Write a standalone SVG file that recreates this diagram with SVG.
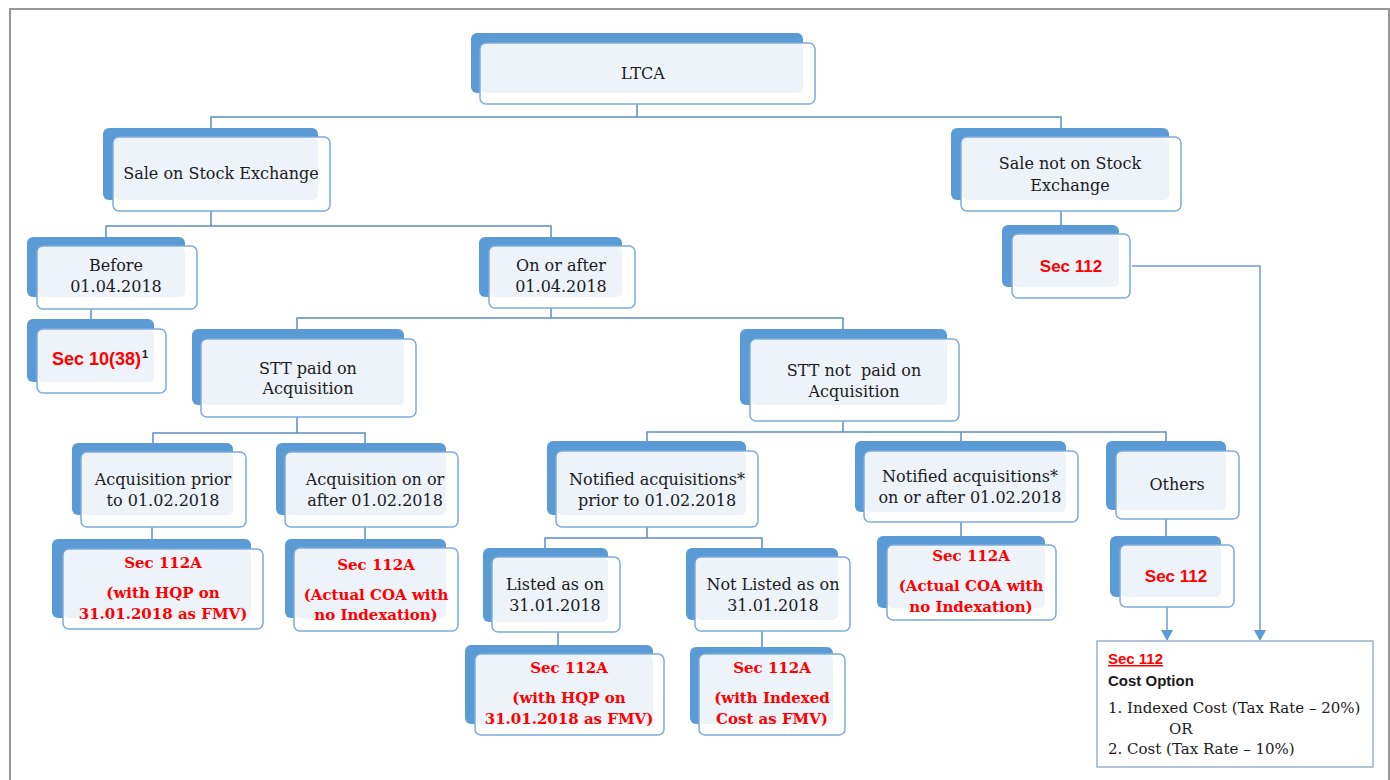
<svg xmlns="http://www.w3.org/2000/svg" width="1390" height="780" viewBox="0 0 1390 780">
<style>
.bk{fill:#5B9BD5}
.fr{fill:#ffffff;stroke:#7FAADB;stroke-width:1.5}
.lt{fill:#EEF3FA}
.t{font-family:"DejaVu Serif",serif;font-size:16px;fill:#1a1a1a;text-anchor:middle}
.r{font-family:"DejaVu Serif",serif;font-weight:bold;font-size:15px;fill:#FF0000;text-anchor:middle}
.rs{font-family:"Liberation Sans",Arial,sans-serif;font-weight:bold;font-size:17px;fill:#FF0000}
.cn{fill:none;stroke:#5A8DC8;stroke-width:1.5}
.ar{fill:none;stroke:#6A9FD6;stroke-width:1.5}
</style>
<rect x="0" y="0" width="1390" height="780" fill="#ffffff"/>
<rect x="10" y="9" width="1379" height="800" fill="none" stroke="#999" stroke-width="2"/>

<g id="connectors">
<polyline class="cn" points="637,104 637,117"/>
<polyline class="cn" points="211,128 211,117 1061,117 1061,128"/>
<polyline class="cn" points="211,211 211,226"/>
<polyline class="cn" points="106,237 106,226 551,226 551,237"/>
<polyline class="cn" points="1061,211 1061,225"/>
<polyline class="cn" points="91,309 91,319"/>
<polyline class="cn" points="551,308 551,318"/>
<polyline class="cn" points="297,329 297,318 843,318 843,329"/>
<polyline class="cn" points="297,417 297,433"/>
<polyline class="cn" points="153,443 153,433 365,433 365,443"/>
<polyline class="cn" points="843,421 843,432"/>
<polyline class="cn" points="647,441 647,432 1166,432 1166,441"/>
<polyline class="cn" points="961,432 961,441"/>
<polyline class="cn" points="152,527 152,539"/>
<polyline class="cn" points="365,527 365,539"/>
<polyline class="cn" points="647,527 647,538"/>
<polyline class="cn" points="545,548 545,538 762,538 762,548"/>
<polyline class="cn" points="961,522 961,536"/>
<polyline class="cn" points="1166,519 1166,536"/>
<polyline class="cn" points="558,632 558,645"/>
<polyline class="cn" points="762,631 762,647"/>
<polyline class="ar" points="1167,607 1167,632"/>
<path d="M1161,630 L1173,630 L1167,641 Z" fill="#5B9BD5"/>
<polyline class="ar" points="1132,266 1260,266 1260,632"/>
<path d="M1254,630 L1266,630 L1260,641 Z" fill="#5B9BD5"/>
</g>

<g id="n-ltca">
<rect class="bk" x="471" y="33" width="332" height="60" rx="6"/>
<rect class="fr" x="480" y="43" width="335" height="61" rx="6"/>
<rect class="lt" x="481" y="44" width="322" height="49" rx="5"/>
<text class="t" x="643" y="79">LTCA</text>
</g>

<g id="n-sale-se">
<rect class="bk" x="103" y="128" width="215" height="72" rx="6"/>
<rect class="fr" x="113" y="137" width="217" height="74" rx="6"/>
<rect class="lt" x="114" y="138" width="204" height="62" rx="5"/>
<text class="t" x="221" y="179">Sale on Stock Exchange</text>
</g>

<g id="n-sale-not-se">
<rect class="bk" x="951" y="128" width="218" height="72" rx="6"/>
<rect class="fr" x="961" y="137" width="220" height="74" rx="6"/>
<rect class="lt" x="962" y="138" width="207" height="62" rx="5"/>
<text class="t" x="1070" y="169">Sale not on Stock</text>
<text class="t" x="1070" y="191">Exchange</text>
</g>

<g id="n-before">
<rect class="bk" x="27" y="237" width="158" height="60" rx="6"/>
<rect class="fr" x="37" y="246" width="160" height="63" rx="6"/>
<rect class="lt" x="38" y="247" width="147" height="50" rx="5"/>
<text class="t" x="116" y="271">Before</text>
<text class="t" x="116" y="292">01.04.2018</text>
</g>

<g id="n-sec1038">
<rect class="bk" x="27" y="319" width="127" height="63" rx="6"/>
<rect class="fr" x="37" y="329" width="129" height="64" rx="6"/>
<rect class="lt" x="38" y="330" width="116" height="52" rx="5"/>
<text class="rs" x="52" y="365" style="font-size:18px">Sec 10(38)</text>
<text x="142" y="358" style="font-family:'Liberation Sans',Arial,sans-serif;font-weight:bold;font-size:11px;fill:#222">1</text>
</g>

<g id="n-onafter">
<rect class="bk" x="479" y="237" width="143" height="60" rx="6"/>
<rect class="fr" x="489" y="246" width="146" height="62" rx="6"/>
<rect class="lt" x="490" y="247" width="132" height="50" rx="5"/>
<text class="t" x="561" y="271">On or after</text>
<text class="t" x="561" y="292">01.04.2018</text>
</g>

<g id="n-sec112-right">
<rect class="bk" x="1002" y="225" width="117" height="62" rx="6"/>
<rect class="fr" x="1012" y="234" width="118" height="64" rx="6"/>
<rect class="lt" x="1013" y="235" width="106" height="52" rx="5"/>
<text class="rs" x="1071" y="272" text-anchor="middle">Sec 112</text>
</g>

<g id="n-stt-paid">
<rect class="bk" x="192" y="329" width="212" height="76" rx="6"/>
<rect class="fr" x="201" y="339" width="215" height="78" rx="6"/>
<rect class="lt" x="202" y="340" width="202" height="65" rx="5"/>
<text class="t" x="308" y="374">STT paid on</text>
<text class="t" x="308" y="394">Acquisition</text>
</g>

<g id="n-stt-notpaid">
<rect class="bk" x="740" y="329" width="207" height="76" rx="6"/>
<rect class="fr" x="750" y="339" width="209" height="82" rx="6"/>
<rect class="lt" x="751" y="340" width="196" height="65" rx="5"/>
<text class="t" x="854" y="376" xml:space="preserve">STT not  paid on</text>
<text class="t" x="854" y="397">Acquisition</text>
</g>

<g id="n-acq-prior">
<rect class="bk" x="72" y="443" width="161" height="72" rx="6"/>
<rect class="fr" x="81" y="452" width="165" height="75" rx="6"/>
<rect class="lt" x="82" y="453" width="151" height="62" rx="5"/>
<text class="t" x="163" y="485">Acquisition prior</text>
<text class="t" x="163" y="506">to 01.02.2018</text>
</g>

<g id="n-acq-onafter">
<rect class="bk" x="276" y="443" width="170" height="72" rx="6"/>
<rect class="fr" x="285" y="452" width="173" height="75" rx="6"/>
<rect class="lt" x="286" y="453" width="160" height="62" rx="5"/>
<text class="t" x="375" y="485">Acquisition on or</text>
<text class="t" x="375" y="506">after 01.02.2018</text>
</g>

<g id="n-notified-prior">
<rect class="bk" x="547" y="441" width="199" height="74" rx="6"/>
<rect class="fr" x="556" y="451" width="202" height="76" rx="6"/>
<rect class="lt" x="557" y="452" width="189" height="63" rx="5"/>
<text class="t" x="657" y="485">Notified acquisitions*</text>
<text class="t" x="657" y="506">prior to 01.02.2018</text>
</g>

<g id="n-notified-onafter">
<rect class="bk" x="855" y="441" width="211" height="71" rx="6"/>
<rect class="fr" x="864" y="451" width="214" height="71" rx="6"/>
<rect class="lt" x="865" y="452" width="201" height="60" rx="5"/>
<text class="t" x="970" y="482">Notified acquisitions*</text>
<text class="t" x="970" y="503">on or after 01.02.2018</text>
</g>

<g id="n-others">
<rect class="bk" x="1106" y="441" width="120" height="69" rx="6"/>
<rect class="fr" x="1116" y="451" width="123" height="68" rx="6"/>
<rect class="lt" x="1117" y="452" width="109" height="58" rx="5"/>
<text class="t" x="1177" y="490">Others</text>
</g>

<g id="n-112a-hqp-left">
<rect class="bk" x="52" y="539" width="199" height="79" rx="6"/>
<rect class="fr" x="63" y="549" width="200" height="80" rx="6"/>
<rect class="lt" x="64" y="550" width="187" height="68" rx="5"/>
<text class="r" x="163" y="568">Sec 112A</text>
<text class="r" x="163" y="598">(with HQP on</text>
<text class="r" x="163" y="619">31.01.2018 as FMV)</text>
</g>

<g id="n-112a-coa-left">
<rect class="bk" x="285" y="539" width="161" height="79" rx="6"/>
<rect class="fr" x="294" y="548" width="164" height="83" rx="6"/>
<rect class="lt" x="295" y="549" width="151" height="69" rx="5"/>
<text class="r" x="376" y="570">Sec 112A</text>
<text class="r" x="376" y="600">(Actual COA with</text>
<text class="r" x="376" y="620">no Indexation)</text>
</g>

<g id="n-112a-coa-right">
<rect class="bk" x="877" y="536" width="168" height="72" rx="6"/>
<rect class="fr" x="887" y="545" width="169" height="75" rx="6"/>
<rect class="lt" x="888" y="546" width="157" height="62" rx="5"/>
<text class="r" x="971" y="561">Sec 112A</text>
<text class="r" x="971" y="591">(Actual COA with</text>
<text class="r" x="971" y="612">no Indexation)</text>
</g>

<g id="n-sec112-others">
<rect class="bk" x="1110" y="536" width="111" height="61" rx="6"/>
<rect class="fr" x="1120" y="545" width="114" height="62" rx="6"/>
<rect class="lt" x="1121" y="546" width="100" height="51" rx="5"/>
<text class="rs" x="1176" y="582" text-anchor="middle">Sec 112</text>
</g>

<g id="n-listed">
<rect class="bk" x="483" y="548" width="125" height="74" rx="6"/>
<rect class="fr" x="492" y="557" width="128" height="75" rx="6"/>
<rect class="lt" x="493" y="558" width="115" height="64" rx="5"/>
<text class="t" x="555" y="590">Listed as on</text>
<text class="t" x="555" y="611">31.01.2018</text>
</g>

<g id="n-notlisted">
<rect class="bk" x="686" y="548" width="152" height="72" rx="6"/>
<rect class="fr" x="695" y="557" width="155" height="74" rx="6"/>
<rect class="lt" x="696" y="558" width="142" height="62" rx="5"/>
<text class="t" x="773" y="590">Not Listed as on</text>
<text class="t" x="773" y="611">31.01.2018</text>
</g>

<g id="n-112a-hqp-bottom">
<rect class="bk" x="465" y="645" width="188" height="79" rx="6"/>
<rect class="fr" x="475" y="654" width="189" height="81" rx="6"/>
<rect class="lt" x="476" y="655" width="177" height="69" rx="5"/>
<text class="r" x="569" y="673">Sec 112A</text>
<text class="r" x="569" y="703">(with HQP on</text>
<text class="r" x="569" y="724">31.01.2018 as FMV)</text>
</g>

<g id="n-112a-indexed">
<rect class="bk" x="690" y="647" width="143" height="77" rx="6"/>
<rect class="fr" x="699" y="654" width="146" height="81" rx="6"/>
<rect class="lt" x="700" y="655" width="133" height="69" rx="5"/>
<text class="r" x="772" y="673">Sec 112A</text>
<text class="r" x="772" y="703">(with Indexed</text>
<text class="r" x="772" y="724">Cost as FMV)</text>
</g>

<g id="n-cost-option">
<rect x="1097" y="641" width="276" height="126" fill="#ffffff" stroke="#9AB0CC" stroke-width="1.5"/>
<text x="1108" y="664" style="font-family:'Liberation Sans',Arial,sans-serif;font-weight:bold;font-size:15px;fill:#FF0000;text-decoration:underline">Sec 112</text>
<text x="1108" y="686" style="font-family:'Liberation Sans',Arial,sans-serif;font-weight:bold;font-size:15px;fill:#1a1a1a">Cost Option</text>
<text x="1108" y="713" style="font-family:'DejaVu Serif',serif;font-size:15px;fill:#1a1a1a">1. Indexed Cost (Tax Rate – 20%)</text>
<text x="1169" y="734" style="font-family:'DejaVu Serif',serif;font-size:15px;fill:#1a1a1a">OR</text>
<text x="1108" y="754" style="font-family:'DejaVu Serif',serif;font-size:15px;fill:#1a1a1a">2. Cost (Tax Rate – 10%)</text>
</g>
</svg>
